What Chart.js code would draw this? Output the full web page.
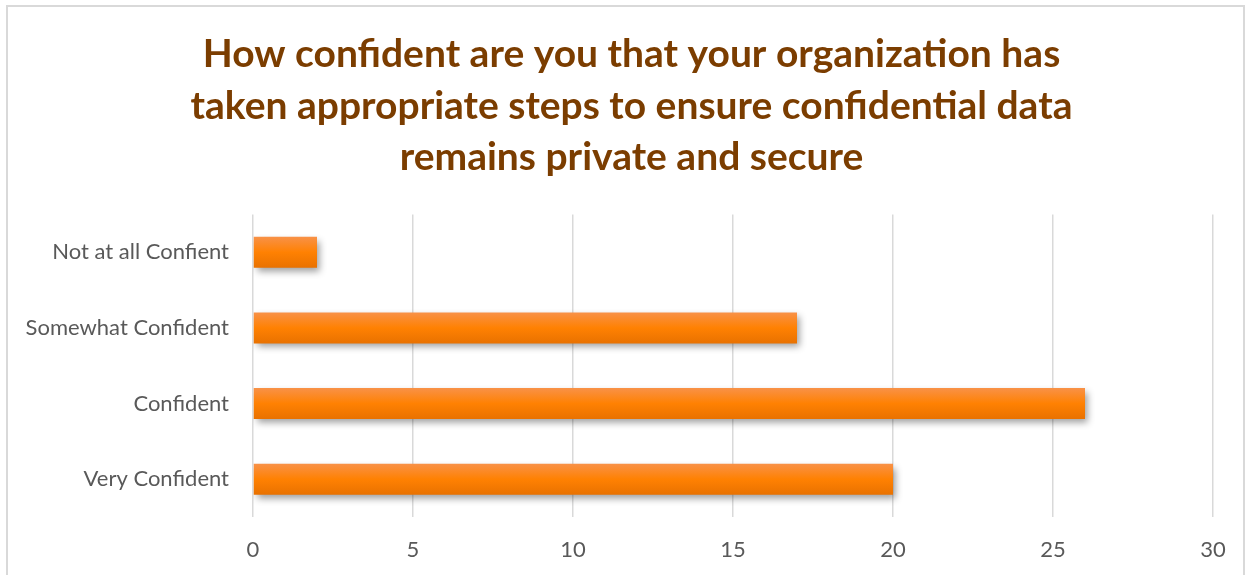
<!DOCTYPE html>
<html>
<head>
<meta charset="utf-8">
<script src="https://cdn.jsdelivr.net/npm/chart.js@4/dist/chart.umd.min.js"></script>
<style>
  html, body { margin: 0; padding: 0; background: #fff; }
  #frame {
    position: absolute; left: 6px; top: 5px; width: 1239px; height: 580px;
    border: 2px solid #d9d9d9; box-sizing: border-box;
  }
  #wrap { position: absolute; left: 0; top: 0; width: 1253px; height: 575px; }
</style>
</head>
<body>
<div id="frame"></div>
<div id="wrap"><canvas id="my-chart"></canvas></div>
<script>
const titleLines = [
  "How confident are you that your organization has",
  "taken appropriate steps to ensure confidential data",
  "remains private and secure"
];
const categories = ["Not at all Confient", "Somewhat Confident", "Confident", "Very Confident"];
const responses = [2, 17, 26, 20];
const xMin = 0;
const xMax = 30;
const xStep = 5;

// soft drop shadow under the bars, like the office chart
const barShadow = {
  id: "barShadow",
  beforeDatasetsDraw(chart) {
    const ctx = chart.ctx;
    ctx.save();
    ctx.shadowColor = "rgba(0,0,0,0.38)";
    ctx.shadowBlur = 7;
    ctx.shadowOffsetX = 3;
    ctx.shadowOffsetY = 4;
  },
  afterDatasetsDraw(chart) {
    chart.ctx.restore();
  }
};

// title is centred on the whole frame, not on the padded box
const titleShift = {
  id: "titleShift",
  afterLayout(chart) {
    const t = chart.titleBlock;
    if (t) {
      t.left += 25;
      t.right += 25;
    }
  }
};

const barFill = (c) => {
  const chart = c.chart;
  if (!chart.chartArea || !chart.scales.y) return "#F88112";
  const y = chart.scales.y.getPixelForValue(c.dataIndex);
  const h = 32;
  const g = chart.ctx.createLinearGradient(0, y - h / 2, 0, y + h / 2);
  g.addColorStop(0, "#F8924A");
  g.addColorStop(0.5, "#FF8102");
  g.addColorStop(1, "#E87100");
  return g;
};

const ctx = document.getElementById("my-chart").getContext("2d");

const chart = new Chart(ctx, {
  type: "bar",
  data: {
    labels: categories,
    datasets: [
      {
        label: "Responses",
        data: responses,
        backgroundColor: barFill,
        borderWidth: 0,
        categoryPercentage: 1,
        barPercentage: 0.41
      }
    ]
  },
  options: {
    indexAxis: "y",
    responsive: true,
    maintainAspectRatio: false,
    animation: false,
    layout: { padding: { top: 29, right: 40, left: 0, bottom: 0 } },
    plugins: {
      legend: { display: false },
      tooltip: { enabled: false },
      title: {
        display: true,
        text: titleLines,
        color: "#7B3D00",
        font: { family: "Lato", size: 39, weight: "bold", lineHeight: 1.32 },
        padding: { top: 0, bottom: 31 }
      }
    },
    scales: {
      x: {
        min: xMin,
        max: xMax,
        ticks: {
          stepSize: xStep,
          color: "#595959",
          font: { family: "Lato", size: 22 },
          padding: 20
        },
        grid: { color: "#d9d9d9", lineWidth: 1.5, drawTicks: false },
        border: { display: false },
        afterFit: (scale) => { scale.height = 58; }
      },
      y: {
        ticks: {
          color: "#595959",
          font: { family: "Lato", size: 22 },
          padding: 24
        },
        grid: { display: false, drawTicks: false },
        border: { display: false },
        afterFit: (scale) => { scale.width = 253; }
      }
    }
  },
  plugins: [barShadow, titleShift]
});
</script>
</body>
</html>
